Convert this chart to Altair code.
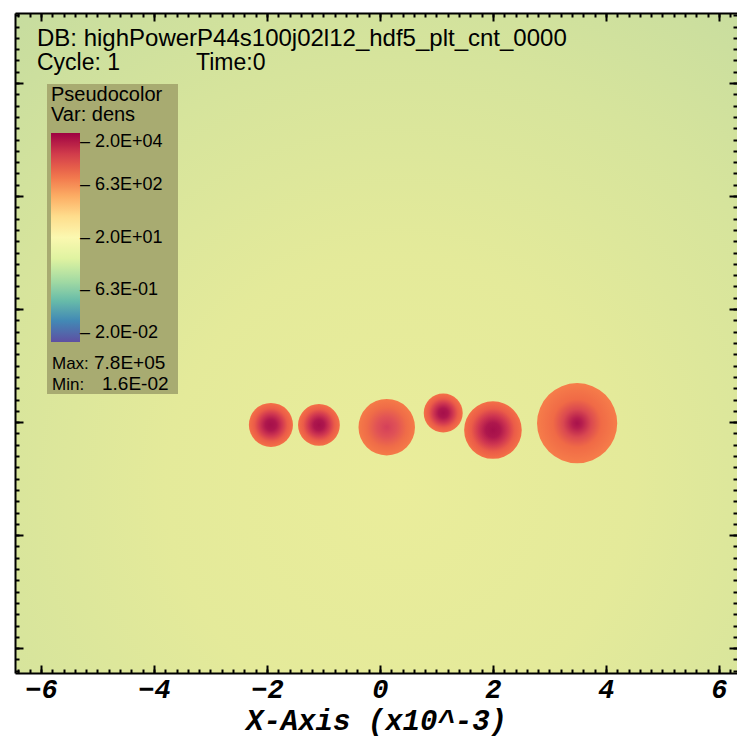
import altair as alt
import pandas as pd

# ---------------- data ----------------
x_major = [-6, -4, -2, 0, 2, 4, 6]
y_major = [-4, -2, 0, 2, 4, 6]
x_domain = [-6.46, 6.32]
y_domain = [-4.44, 7.24]

blob_x = [-1.93, -1.08, 0.12, 1.12, 2.00, 3.49]
blob_y = [-0.05, -0.05, -0.09, 0.16, -0.14, -0.02]
blob_r = [0.39, 0.37, 0.50, 0.345, 0.51, 0.71]
blob_core = ["dense", "dense", "diffuse", "dense", "dense", "compact"]

legend_values = [0.02, 0.632, 20, 632, 20000]
legend_labels = ["2.0E-02", "6.3E-01", "2.0E+01", "6.3E+02", "2.0E+04"]
legend_title = ["Pseudocolor", "Var: dens"]
var_max = "7.8E+05"
var_min = "1.6E-02"
header_db = "DB: highPowerP44s100j02l12_hdf5_plt_cnt_0000"
header_cycle = "Cycle: 1"
header_time = "Time:0"
x_title = "X-Axis (x10^-3)"

# ---------------- layout ----------------
W, H = 722, 660
PX_PER_UNIT = W / (x_domain[1] - x_domain[0])
TEXT_FONT = "Liberation Sans"
AXIS_FONT = "Liberation Mono"

xs = alt.Scale(domain=x_domain, nice=False, zero=False)
ys = alt.Scale(domain=y_domain, nice=False, zero=False)
size_scale = alt.Scale(type="linear", domain=[0, 1], range=[0, PX_PER_UNIT ** 2])

blobs = pd.DataFrame({"x": blob_x, "y": blob_y, "r": blob_r, "core": blob_core})
blobs["d2"] = (2 * blobs["r"]) ** 2
one = pd.DataFrame({"x": [0.0], "y": [0.0]})


def radial(stops, cx=0.5, cy=0.5, r=0.5):
    return alt.RadialGradient(
        gradient="radial",
        x1=cx, y1=cy, r1=0, x2=cx, y2=cy, r2=r,
        stops=[alt.GradientStop(offset=o, color=c) for o, c in stops],
    )


bg_grad = radial(
    [(0.0, "#eaed9b"), (0.35, "#e4ea9a"), (0.65, "#d6e49c"), (1.0, "#c2daa0")],
    cx=0.53, cy=0.70, r=0.92,
)

blob_grads = {
    "dense": radial([(0.0, "#a50f4a"), (0.25, "#ae174d"), (0.5, "#cf3650"),
                     (0.75, "#eb5c48"), (1.0, "#f47047")]),
    "diffuse": radial([(0.0, "#d4405a"), (0.35, "#e05256"), (0.7, "#ef6c48"),
                       (1.0, "#f57a48")]),
    "compact": radial([(0.0, "#a8124b"), (0.12, "#b51d4e"), (0.35, "#da4950"),
                       (0.6, "#f06a46"), (1.0, "#f67d4a")]),
}

# ---------------- background + main x axis ----------------
bg_df = pd.DataFrame({"x": [x_domain[0]], "x2": [x_domain[1]],
                      "y": [y_domain[0]], "y2": [y_domain[1]]})
bottom_axis = alt.Axis(
    orient="bottom", values=x_major, format="d", grid=False,
    ticks=False, tickSize=0, domain=True, domainColor="black", domainWidth=2,
    labelFont=AXIS_FONT, labelFontSize=27, labelFontWeight="bold",
    labelFontStyle="italic", labelColor="black", labelPadding=3,
    labelFlush=False, labelOverlap=False,
    title=x_title, titleFont=AXIS_FONT, titleFontSize=29, titleFontWeight="bold",
    titleFontStyle="italic", titleColor="black", titlePadding=4, zindex=2,
)
background = alt.Chart(bg_df).mark_rect(fill=bg_grad).encode(
    x=alt.X("x:Q", scale=xs, axis=bottom_axis),
    x2="x2:Q",
    y=alt.Y("y:Q", scale=ys, axis=None),
    y2="y2:Q",
)

# ---------------- blobs ----------------
blob_layers = []
for kind, grad in blob_grads.items():
    blob_layers.append(
        alt.Chart(blobs).transform_filter(alt.datum.core == kind)
        .mark_circle(fill=grad, opacity=1, strokeWidth=0)
        .encode(
            x=alt.X("x:Q", scale=xs, axis=None),
            y=alt.Y("y:Q", scale=ys, axis=None),
            size=alt.Size("d2:Q", scale=size_scale, legend=None),
        )
    )

# ---------------- legend box + texts ----------------
legend_box = alt.Chart(one).mark_rect(fill="#a8ab71").encode(
    x=alt.value(32), x2=alt.value(163), y=alt.value(71), y2=alt.value(381)
)


def label(txt, x, y, size, font=TEXT_FONT):
    return alt.Chart(one).mark_text(
        text=txt, align="left", baseline="alphabetic", font=font,
        fontSize=size, color="black",
    ).encode(x=alt.value(x), y=alt.value(y))


texts = [
    label(header_db, 22, 33, 24),
    label(header_cycle, 22, 57, 23),
    label(header_time, 181, 57, 23),
    label("Max:", 37, 356, 17),
    label(var_max, 79, 356, 19),
    label("Min:", 37, 377, 17),
    label(var_min, 87, 377, 19),
]

# label expression for the colour bar
expr = "'– " + legend_labels[-1] + "'"
for i in range(len(legend_values) - 2, -1, -1):
    thr = (legend_values[i] * legend_values[i + 1]) ** 0.5
    expr = f"datum.value < {thr:.4g} ? '– {legend_labels[i]}' : ({expr})"

color_layer = alt.Chart(pd.DataFrame({"v": legend_values})).mark_circle(
    size=0, opacity=1
).encode(
    x=alt.value(0), y=alt.value(0),
    color=alt.Color(
        "v:Q",
        scale=alt.Scale(type="log", domain=[0.02, 20000], scheme="spectral", reverse=True),
        legend=alt.Legend(
            orient="none", legendX=36, legendY=72, direction="vertical",
            title=legend_title, titleFont=TEXT_FONT, titleFontSize=20,
            titleFontWeight="normal", titleColor="black", titleLineHeight=20,
            titlePadding=8, titleAnchor="start",
            values=legend_values, labelExpr=expr, labelFont=TEXT_FONT,
            labelFontSize=18, labelColor="black", labelOffset=0,
            labelBaseline="middle", labelOverlap=False,
            gradientLength=209, gradientThickness=29, gradientStrokeWidth=0,
            padding=0,
        ),
    ),
)


# ---------------- inward tick axes ----------------
def tick_axis(orient, offset, size, values=None, count=None, domain=False):
    kw = dict(orient=orient, offset=offset, ticks=True, tickSize=size, tickWidth=2,
              tickColor="black", labels=False, grid=False, domain=domain,
              title=None, zindex=2)
    if domain:
        kw.update(domainColor="black", domainWidth=2)
    if values is not None:
        kw["values"] = values
    if count is not None:
        kw["tickCount"] = count
    return alt.Axis(**kw)


def axis_layer(xaxis, yaxis):
    return alt.Chart(one).mark_point(opacity=0, size=0).encode(
        x=alt.X("x:Q", scale=xs, axis=xaxis),
        y=alt.Y("y:Q", scale=ys, axis=yaxis),
    )


axes = [
    axis_layer(tick_axis("bottom", -H, 8, values=x_major, domain=True),
               tick_axis("right", -W, 8, values=y_major, domain=True)),
    axis_layer(tick_axis("bottom", -H, 4, count=64),
               tick_axis("right", -W, 4, count=58)),
    axis_layer(tick_axis("top", -H, 8, values=x_major),
               tick_axis("left", -W, 8, values=y_major)),
    axis_layer(tick_axis("top", -H, 4, count=64),
               tick_axis("left", -W, 4, count=58)),
]

chart = alt.layer(
    background, *blob_layers, legend_box, *texts, color_layer, *axes
).resolve_axis(x="independent", y="independent").properties(
    width=W, height=H,
    autosize=alt.AutoSizeParams(type="none"),
    padding={"left": 15, "top": 13, "right": 0, "bottom": 68},
    background="white",
).configure_view(stroke="transparent")

chart.save("out.html", embed_options={"renderer": "svg", "actions": False})
